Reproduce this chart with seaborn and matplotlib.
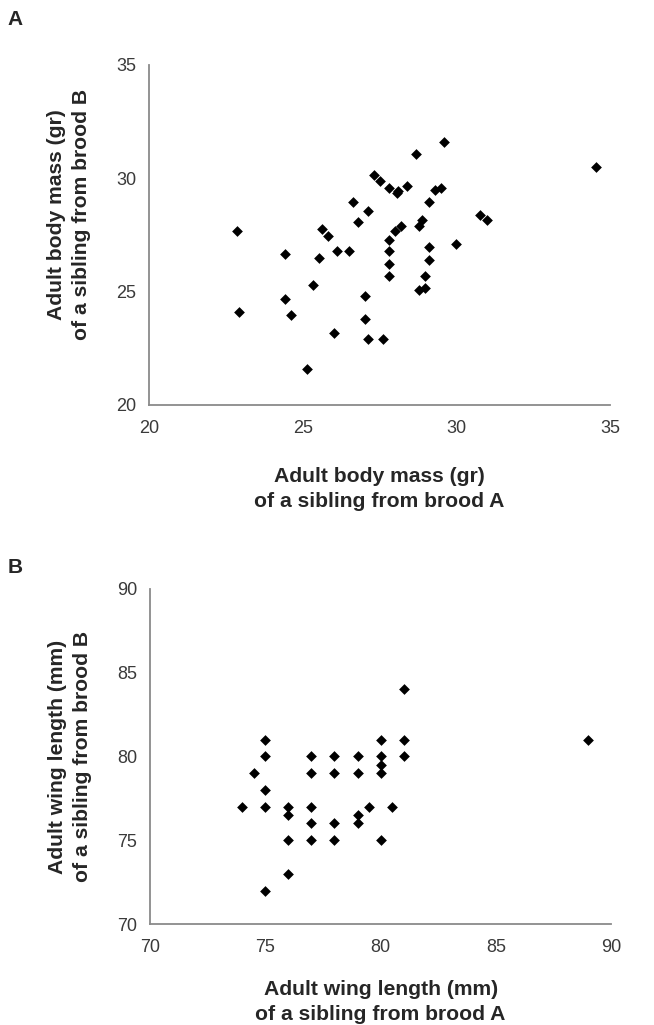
import matplotlib.pyplot as plt
import pandas as pd
import seaborn as sns

# Panel A: adult body mass (gr), sibling from brood A vs brood B
mass_a = [22.85, 22.94, 24.42, 24.42, 24.63, 25.13, 25.33, 25.52, 25.62, 25.81,
          26.02, 26.11, 26.51, 26.62, 26.81, 27.01, 27.01, 27.11, 27.11, 27.31,
          27.51, 27.61, 27.80, 27.80, 27.80, 27.80, 27.80, 28.00, 28.10, 28.08,
          28.20, 28.39, 28.69, 28.79, 28.79, 28.89, 28.99, 28.99, 29.10, 29.10,
          29.10, 29.29, 29.49, 29.59, 29.99, 30.78, 30.99, 34.55]
mass_b = [27.67, 24.08, 26.67, 24.68, 23.97, 21.58, 25.28, 26.47, 27.77, 27.46,
          23.18, 26.77, 26.77, 28.96, 28.06, 24.78, 23.78, 28.55, 22.89, 30.15,
          29.85, 22.89, 29.57, 27.27, 26.77, 26.19, 25.66, 27.67, 29.43, 29.36,
          27.87, 29.66, 31.06, 27.87, 25.07, 28.17, 25.16, 25.67, 28.96, 26.98,
          26.38, 29.46, 29.57, 31.57, 27.07, 28.37, 28.17, 30.47]

# Panel B: adult wing length (mm)
wing_a = [74.0, 74.5, 75, 75, 75, 75, 75, 76, 76, 76, 76, 77, 77, 77, 77, 77,
          78, 78, 78, 78, 79, 79, 79, 79, 79.5, 80, 80, 80, 80, 80, 80.5,
          81, 81, 81, 89]
wing_b = [77, 79, 81, 80, 78, 77, 72, 77, 76.5, 75, 73, 80, 79, 77, 76, 75,
          80, 79, 76, 75, 80, 79, 76.5, 76, 77, 81, 80, 79.5, 79, 75, 77,
          84, 81, 80, 81]

df_mass = pd.DataFrame({"a": mass_a, "b": mass_b})
df_wing = pd.DataFrame({"a": wing_a, "b": wing_b})

sns.set_style("white")
plt.rcParams["font.family"] = ["Liberation Sans", "DejaVu Sans"]

fig = plt.figure(figsize=(6.54, 10.25), dpi=100)
ax_a = fig.add_axes([0.228, 0.605, 0.705, 0.332])
ax_b = fig.add_axes([0.229, 0.0985, 0.706, 0.327])

# axes, data, limits, label stem, ylabel centre, xlabel offset
panels = [
    (ax_a, df_mass, (20, 35), "Adult body mass (gr)", 0.56, -0.182),
    (ax_b, df_wing, (70, 90), "Adult wing length (mm)", 0.5, -0.166),
]

for ax, d, lim, what, ymid, xoff in panels:
    sns.scatterplot(data=d, x="a", y="b", marker="D", s=30, color="black",
                    edgecolor="black", linewidth=0, ax=ax)
    ax.set_xlim(*lim)
    ax.set_ylim(*lim)
    ticks = list(range(lim[0], lim[1] + 1, 5))
    ax.set_xticks(ticks)
    ax.set_yticks(ticks)
    sns.despine(ax=ax)
    for side in ("left", "bottom"):
        ax.spines[side].set_color("#8a8a8a")
        ax.spines[side].set_linewidth(1.3)
    ax.tick_params(axis="both", direction="out", length=4, width=1.2,
                   color="#8a8a8a", labelsize=13, labelcolor="#3a3a3a")
    ax.tick_params(axis="x", pad=7)
    ax.tick_params(axis="y", pad=5)
    ax.set_xlabel(f"{what}\nof a sibling from brood A", fontsize=15.2,
                  fontweight="bold", linespacing=1.4)
    ax.set_ylabel(f"{what}\nof a sibling from brood B", fontsize=15.2,
                  fontweight="bold", linespacing=1.4)
    ax.xaxis.set_label_coords(0.5, xoff)
    ax.yaxis.set_label_coords(-0.125, ymid)

fig.text(0.011, 0.981, "A", fontsize=15, fontweight="bold", va="center")
fig.text(0.011, 0.446, "B", fontsize=15, fontweight="bold", va="center")

fig.savefig("out.png", dpi=100)
